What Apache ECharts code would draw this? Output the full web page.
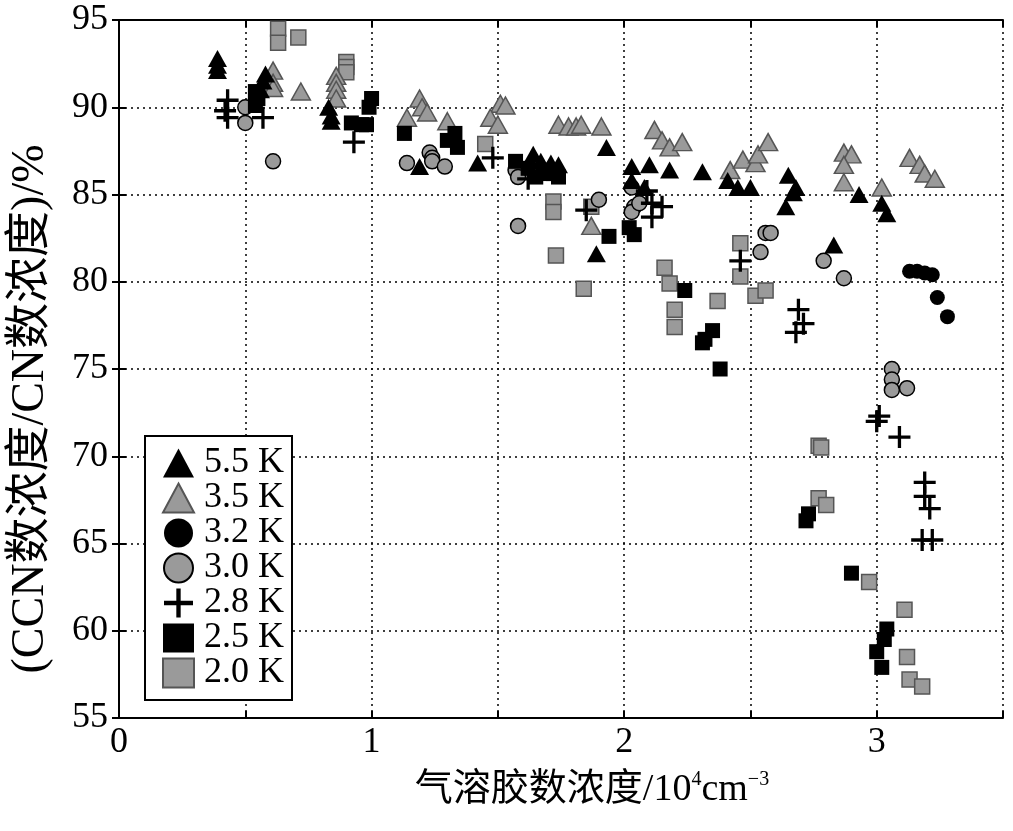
<!DOCTYPE html>
<html><head><meta charset="utf-8">
<script src="https://cdn.jsdelivr.net/npm/echarts@6/dist/echarts.min.js"></script>
<style>html,body{margin:0;padding:0;background:#fff}#c{width:1013px;height:831px}</style>
</head><body><div id="c"></div>
<script>
const seriesNames = ['5.5 K','3.5 K','3.2 K','3.0 K','2.8 K','2.5 K','2.0 K'];
const xAxisName = '气溶胶数浓度/10{sup|4}cm{sup|−3}';
const yAxisName = '(CCN数浓度/CN数浓度)/%';
const xMajorLabels = [0, 1, 2, 3];

const s55 = [[0.39,92.8],[0.39,92.4],[0.39,92.1],[0.56,91.0],[0.57,91.5],[0.58,91.9],
  [0.83,90.0],[0.84,89.5],[0.84,89.2],[1.19,86.6],[1.42,86.8],
  [1.64,87.3],[1.67,86.9],[1.71,86.8],[1.74,86.7],[1.69,86.4],
  [1.93,87.7],[1.89,81.6],[2.03,86.6],[2.10,86.7],[2.18,86.4],[2.03,85.8],[2.08,85.4],
  [2.31,86.3],[2.41,85.8],[2.45,85.4],[2.50,85.4],
  [2.65,86.1],[2.68,85.4],[2.67,85.1],[2.64,84.3],
  [2.83,82.1],[2.93,85.0],[3.02,84.5],[3.04,83.9]];
const s35 = [[0.61,92.1],[0.61,91.4],[0.61,91.1],[0.72,90.9],
  [0.86,91.8],[0.86,91.4],[0.86,91.0],[0.86,90.5],[1.14,89.4],
  [1.19,90.5],[1.20,90.0],[1.22,89.7],[1.30,89.2],
  [1.51,90.2],[1.53,90.1],[1.47,89.4],[1.50,89.0],
  [1.74,89.0],[1.78,88.9],[1.81,88.9],[1.83,89.0],[1.91,88.9],[1.87,83.2],
  [2.12,88.7],[2.15,88.1],[2.18,87.7],[2.23,88.0],
  [2.42,86.4],[2.47,87.0],[2.52,86.8],[2.53,87.3],[2.57,88.0],
  [2.87,87.4],[2.90,87.3],[2.87,86.7],[2.87,85.7],[3.02,85.4],
  [3.13,87.1],[3.17,86.7],[3.19,86.2],[3.23,85.9]];
const s32 = [[3.13,80.6],[3.16,80.6],[3.19,80.5],[3.22,80.4],[3.24,79.1],[3.28,78.0]];
const s30 = [[0.50,90.0],[0.50,89.1],[0.61,86.9],
  [1.14,86.8],[1.23,87.4],[1.24,87.1],[1.24,86.9],[1.29,86.6],
  [1.57,86.4],[1.58,86.0],[1.58,83.2],
  [1.90,84.7],[2.03,85.4],[2.04,84.3],[2.03,84.0],[2.06,84.5],
  [2.54,81.7],[2.56,82.8],[2.58,82.8],[2.79,81.2],[2.87,80.2],
  [3.06,75.0],[3.06,74.4],[3.06,73.8],[3.12,73.9]];
const s28 = [[0.43,90.4],[0.42,89.8],[0.43,89.4],[0.57,89.4],[0.93,88.0],
  [1.48,87.1],[1.62,85.9],[1.85,84.1],
  [2.09,85.2],[2.11,84.5],[2.15,84.3],[2.11,83.7],[2.46,81.2],
  [2.69,78.4],[2.71,77.6],[2.68,77.1],
  [3.01,72.3],[3.00,72.0],[3.09,71.1],
  [3.19,68.5],[3.19,67.7],[3.21,67.0],[3.18,65.2],[3.22,65.2]];
const s25 = [[0.54,90.9],[0.55,90.5],[0.54,90.1],
  [1.00,90.5],[0.99,90.0],[0.92,89.1],[0.96,89.0],[0.98,89.0],[1.13,88.5],
  [1.33,88.5],[1.30,88.1],[1.34,87.7],
  [1.57,86.9],[1.62,86.5],[1.65,86.0],[1.68,86.2],[1.72,86.2],[1.74,86.0],
  [1.94,82.6],[2.02,83.1],[2.04,82.7],
  [2.24,79.5],[2.35,77.2],[2.32,76.7],[2.31,76.5],[2.38,75.0],
  [2.73,66.7],[2.72,66.3],[2.90,63.3],
  [3.04,60.1],[3.03,59.5],[3.00,58.8],[3.02,57.9]];
const s20 = [[0.63,94.5],[0.63,93.7],[0.71,94.0],[0.90,92.6],[0.90,92.3],[0.90,92.0],
  [1.45,87.9],[1.72,84.6],[1.72,84.0],[1.73,81.5],[1.87,84.3],[1.84,79.6],
  [2.16,80.8],[2.18,79.9],[2.20,78.4],[2.20,77.4],[2.37,78.9],
  [2.46,82.2],[2.46,80.3],[2.52,79.2],[2.56,79.5],
  [2.77,70.6],[2.78,70.5],[2.77,67.6],[2.80,67.2],[2.97,62.8],
  [3.11,61.2],[3.12,58.5],[3.13,57.2],[3.18,56.8]];

const FONT = '"Liberation Serif", "Noto Sans CJK SC", serif';
const PLUS = 'path://M8.5,0h3v8.5h8.5v3h-8.5v8.5h-3v-8.5h-8.5v-3h8.5z';
const GRAY = '#9a9a9a';

const axisLineStyle = {color: '#000', width: 2};
const chart = echarts.init(document.getElementById('c'), null, {renderer: 'canvas'});
const mk = (name, data, symbol, size, style, z) => ({
  name, type: 'scatter', data, symbol, symbolSize: size, itemStyle: style, z,
  emphasis: {disabled: true}, animation: false
});
chart.setOption({
  animation: false,
  backgroundColor: '#fff',
  grid: {left: 114, right: 10, top: 20, bottom: 113},
  legend: {
    orient: 'vertical', left: 145, top: 436,
    data: seriesNames,
    padding: [9, 8, 9, 17], itemGap: -1, itemWidth: 31, itemHeight: 29,
    borderColor: '#000', borderWidth: 2, backgroundColor: '#fff',
    textStyle: {fontFamily: FONT, fontSize: 36, color: '#000', padding: [0, 0, 0, 5]},
    selectedMode: false
  },
  xAxis: [{
    type: 'value', position: 'bottom', min: 0, max: 3.5, interval: 0.5,
    axisLine: {show: true, lineStyle: axisLineStyle},
    axisTick: {show: true, inside: true, length: 7, lineStyle: axisLineStyle},
    splitLine: {show: true, lineStyle: {color: '#000', width: 1.5, type: [2, 4]}},
    axisLabel: {
      fontFamily: FONT, fontSize: 36, color: '#000', margin: 7,
      formatter: v => xMajorLabels.includes(v) ? String(v) : ''
    },
    name: xAxisName, nameLocation: 'middle', nameGap: 52,
    nameTextStyle: {
      fontFamily: FONT, fontSize: 38, color: '#000', lineHeight: 40,
      padding: [0, 0, 0, 62],
      rich: {sup: {fontFamily: FONT, fontSize: 20, color: '#000', lineHeight: 40, verticalAlign: 'top', padding: [0, 0, 15, 0]}}
    }
  }, {
    type: 'value', position: 'top', min: 0, max: 3.5, interval: 0.5,
    axisLine: {show: true, lineStyle: axisLineStyle},
    axisTick: {show: true, inside: true, length: 7, lineStyle: axisLineStyle},
    splitLine: {show: false}, axisLabel: {show: false}
  }],
  yAxis: [{
    type: 'value', position: 'left', min: 55, max: 95, interval: 5,
    axisLine: {show: true, lineStyle: axisLineStyle},
    axisTick: {show: true, inside: true, length: 7, lineStyle: axisLineStyle},
    splitLine: {show: true, lineStyle: {color: '#000', width: 1.5, type: [2, 4]}},
    axisLabel: {fontFamily: FONT, fontSize: 36, color: '#000', margin: 11},
    name: yAxisName, nameLocation: 'middle', nameGap: 65, nameRotate: 90,
    nameTextStyle: {fontFamily: FONT, fontSize: 46, color: '#000', padding: [0, 80, 0, 0]}
  }, {
    type: 'value', position: 'right', min: 55, max: 95, interval: 5,
    axisLine: {show: true, lineStyle: axisLineStyle},
    axisTick: {show: true, inside: true, length: 7, lineStyle: axisLineStyle},
    splitLine: {show: false}, axisLabel: {show: false}
  }],
  series: [
    mk('2.0 K', s20, 'rect', 15, {color: GRAY, borderColor: '#555', borderWidth: 1.5, opacity: 1}, 2),
    mk('3.0 K', s30, 'circle', 15, {color: GRAY, borderColor: '#000', borderWidth: 1.5, opacity: 1}, 2),
    mk('3.5 K', s35, 'triangle', [19, 17], {color: GRAY, borderColor: '#555', borderWidth: 1.5, opacity: 1}, 2),
    mk('5.5 K', s55, 'triangle', [19, 17], {color: '#000', opacity: 1}, 2),
    mk('3.2 K', s32, 'circle', 15, {color: '#000', opacity: 1}, 2),
    mk('2.5 K', s25, 'rect', 15, {color: '#000', opacity: 1}, 2),
    mk('2.8 K', s28, PLUS, 22, {color: '#000', opacity: 1}, 2)
  ]
});
</script>
</body></html>
